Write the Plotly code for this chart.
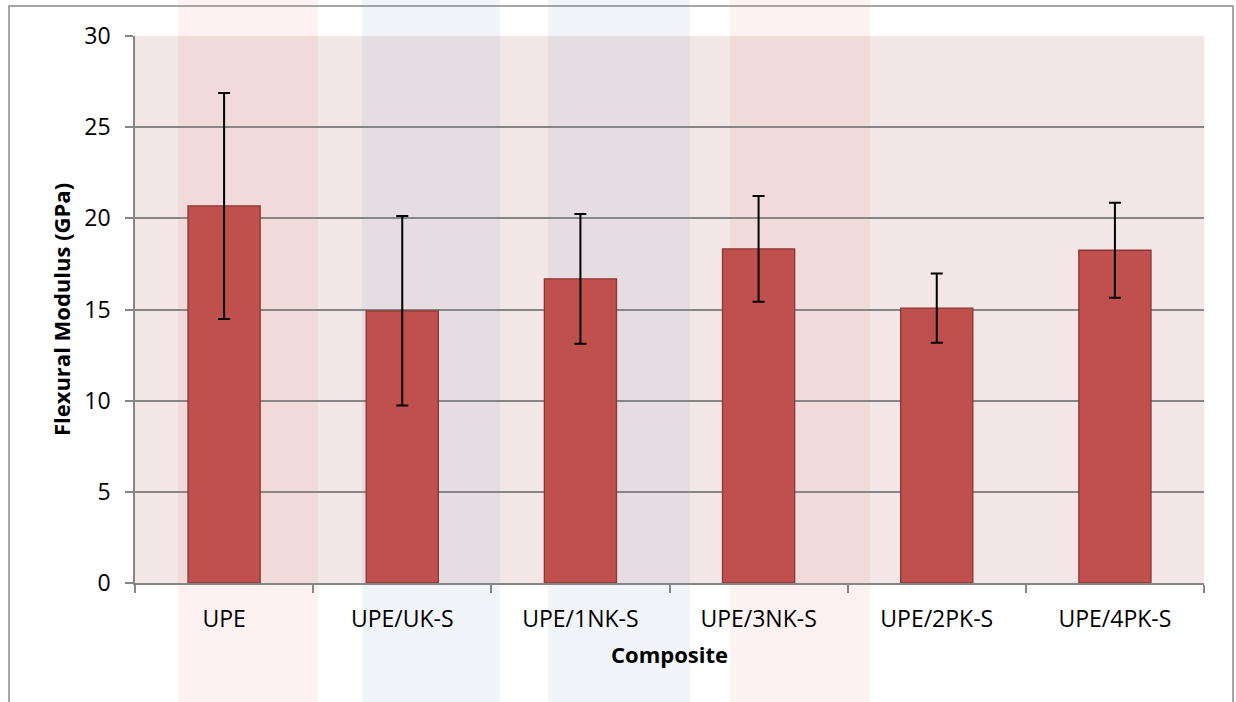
import plotly.graph_objects as go

categories = ["UPE", "UPE/UK-S", "UPE/1NK-S", "UPE/3NK-S", "UPE/2PK-S", "UPE/4PK-S"]
modulus = [20.68, 14.93, 16.68, 18.32, 15.08, 18.25]
errors = [6.2, 5.2, 3.56, 2.9, 1.9, 2.6]
y_ticks = [0, 5, 10, 15, 20, 25, 30]

fig = go.Figure()
fig.add_trace(go.Bar(
    x=categories, y=modulus,
    marker=dict(color="#c0504d", line=dict(color="#8b3735", width=1.3)),
    error_y=dict(type="data", array=errors, visible=True, color="#000000",
                 thickness=2, width=6),
    width=0.405,
))

W, H = 1236, 702
PL, PR, PT, PB = 135, 1204, 36, 583  # plot area in page pixels
L, R, T, B = PL, W - PR, PT, H - PB
pw, ph = PR - PL, PB - PT

def px(x):
    return (x - PL) / pw

def py(y):
    return (PB - y) / ph

shapes = []
# faint watermark bands behind the plot
for x0, x1, col in [(178, 318, "rgba(240,120,120,0.10)"),
                    (362, 500, "rgba(120,150,190,0.10)"),
                    (548, 690, "rgba(120,150,190,0.10)"),
                    (730, 870, "rgba(240,120,120,0.10)")]:
    shapes.append(dict(type="rect", xref="paper", yref="paper",
                       x0=px(x0), x1=px(x1), y0=py(710), y1=py(0),
                       fillcolor=col, line=dict(width=0), layer="below"))
# outer chart border
shapes.append(dict(type="rect", xref="paper", yref="paper",
                   x0=px(9), x1=px(1233), y0=py(760), y1=py(6),
                   line=dict(color="#8a8a8a", width=1.5), fillcolor="rgba(0,0,0,0)",
                   layer="above"))

font = "Open Sans, Lato, sans-serif"
fig.update_layout(
    width=W, height=H,
    margin=dict(l=L, r=R, t=T, b=B),
    paper_bgcolor="white",
    plot_bgcolor="#f2e6e6",
    showlegend=False,
    shapes=shapes,
    font=dict(family=font, color="#000000"),
    xaxis=dict(
        type="category",
        tickson="boundaries",
        ticks="outside", ticklen=8, tickcolor="#868686", tickwidth=1.5,
        showline=True, linecolor="#868686", linewidth=1.5,
        showgrid=False,
        tickfont=dict(size=23, family=font),
        ticklabelstandoff=15,
        title=dict(text="<b>Composite</b>", font=dict(size=22, family=font), standoff=14),
    ),
    yaxis=dict(
        range=[0, 30], tickvals=y_ticks,
        ticks="outside", ticklen=8, tickcolor="#868686", tickwidth=1.5,
        showline=True, linecolor="#868686", linewidth=1.5,
        showgrid=True, gridcolor="#868686", gridwidth=1.5,
        zeroline=False,
        tickfont=dict(size=23, family=font),
        ticklabelstandoff=10,
        title=dict(text="<b>Flexural Modulus (GPa)</b>", font=dict(size=22, family=font), standoff=8),
    ),
)

fig.write_html(
    "out.html",
    config={"displayModeBar": False},
    post_script="document.body.style.margin='0';document.body.style.overflow='hidden';",
)
